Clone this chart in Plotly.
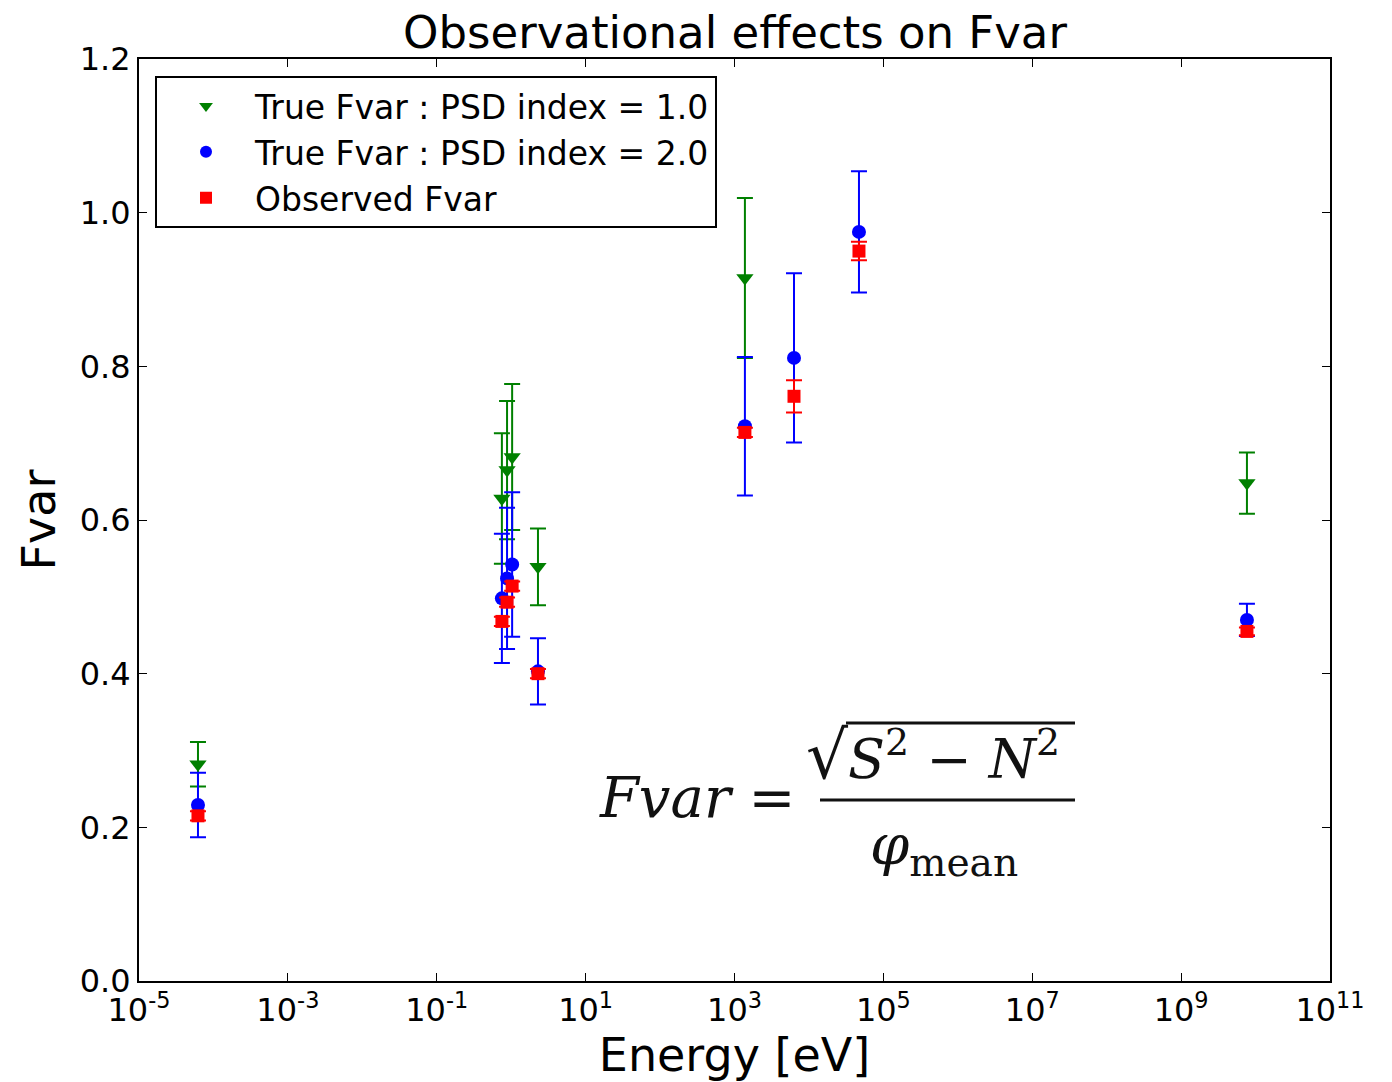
import plotly.graph_objects as go

# Energies of the observing bands [eV]
energy_all = [6.2e-5, 0.75, 0.88, 1.03, 2.29, 1380, 6300, 47000, 7.66e9]
energy_psd1 = [6.2e-5, 0.75, 0.88, 1.03, 2.29, 1380, 7.66e9]

# True Fvar for PSD index 1.0
fvar_psd1 = [0.282, 0.628, 0.665, 0.682, 0.539, 0.915, 0.648]
err_psd1 = [0.029, 0.085, 0.090, 0.095, 0.050, 0.104, 0.040]

# True Fvar for PSD index 2.0
fvar_psd2 = [0.229, 0.498, 0.524, 0.542, 0.403, 0.722, 0.811, 0.975, 0.470]
err_psd2 = [0.042, 0.084, 0.092, 0.094, 0.043, 0.090, 0.110, 0.079, 0.021]

# Observed Fvar
fvar_obs = [0.215, 0.468, 0.493, 0.514, 0.400, 0.714, 0.761, 0.950, 0.455]
err_obs = [0.006, 0.006, 0.006, 0.006, 0.006, 0.006, 0.021, 0.012, 0.005]

x_tick_exps = [-5, -3, -1, 1, 3, 5, 7, 9, 11]
y_ticks = [0.0, 0.2, 0.4, 0.6, 0.8, 1.0, 1.2]

FONT = "DejaVu Sans"

fig = go.Figure()

def add_series(x, y, err, color, symbol, size, name):
    fig.add_trace(go.Scatter(
        x=x, y=y, mode="markers", name=name,
        marker=dict(color=color, symbol=symbol, size=size, line=dict(width=0)),
        error_y=dict(type="data", array=err, visible=True, color=color,
                     thickness=2, width=8),
    ))

add_series(energy_psd1, fvar_psd1, err_psd1, "#008000", "triangle-down", 15,
           "True Fvar : PSD index = 1.0")
add_series(energy_all, fvar_psd2, err_psd2, "#0000ff", "circle", 14,
           "True Fvar : PSD index = 2.0")
add_series(energy_all, fvar_obs, err_obs, "#ff0000", "square", 13,
           "Observed Fvar")

L, R, T, B = 139, 62, 59, 101
W, H = 1392, 1082
pw, ph = W - L - R, H - T - B

def px(xp):
    return (xp - L) / pw

def py(yp):
    return (H - B - yp) / ph

# Fvar definition drawn as text plus rules
serif = "DejaVu Serif"
ink = "#111"
fig.add_annotation(x=px(597), y=py(797), xref="paper", yref="paper",
                   xanchor="left", yanchor="middle", showarrow=False,
                   text="<i>Fvar</i> =", font=dict(family=serif, size=56, color=ink))
fig.add_annotation(x=px(804), y=py(755), xref="paper", yref="paper",
                   xanchor="left", yanchor="middle", showarrow=False,
                   text="<span style='font-size:66px'>√</span><i>S</i><sup>2</sup> − <i>N</i><sup>2</sup>",
                   font=dict(family=serif, size=54, color=ink))
fig.add_annotation(x=px(944), y=py(848), xref="paper", yref="paper",
                   xanchor="center", yanchor="middle", showarrow=False,
                   text="<i>φ</i><sub>mean</sub>",
                   font=dict(family=serif, size=56, color=ink))
fig.add_shape(type="line", xref="paper", yref="paper",
              x0=px(846), x1=px(1075), y0=py(723), y1=py(723),
              line=dict(color=ink, width=3))
fig.add_shape(type="line", xref="paper", yref="paper",
              x0=px(820), x1=px(1075), y0=py(800), y1=py(800),
              line=dict(color=ink, width=3))

axis_common = dict(showline=True, linecolor="black", linewidth=2, mirror="ticks",
                   ticks="inside", ticklen=8, tickwidth=1, tickcolor="black",
                   showgrid=False, zeroline=False,
                   tickfont=dict(family=FONT, size=32, color="black"))

fig.update_xaxes(type="log", range=[-5, 11],
                 tickvals=[10.0 ** e for e in x_tick_exps],
                 ticktext=[f"10<sup>{e}</sup>" for e in x_tick_exps],
                 title=dict(text="Energy [eV]", font=dict(family=FONT, size=46, color="black"),
                            standoff=14),
                 **axis_common)
fig.update_yaxes(range=[0, 1.2], tickvals=y_ticks,
                 ticktext=[f"{v:.1f}" for v in y_ticks],
                 title=dict(text="Fvar", font=dict(family=FONT, size=46, color="black"),
                            standoff=10),
                 **axis_common)

fig.update_layout(
    width=W, height=H,
    margin=dict(l=L, r=R, t=T, b=B, autoexpand=False),
    paper_bgcolor="white", plot_bgcolor="white",
    title=dict(text="Observational effects on Fvar", xref="container", x=735 / W,
               xanchor="center", y=1 - 32 / H, yanchor="middle",
               font=dict(family=FONT, size=45, color="black")),
    showlegend=True,
    legend=dict(x=px(155), y=py(76), xanchor="left", yanchor="top",
                bgcolor="white", bordercolor="black", borderwidth=2,
                font=dict(family=FONT, size=33, color="black"),
                itemsizing="constant", itemwidth=88),
)

fig.write_html("out.html")
